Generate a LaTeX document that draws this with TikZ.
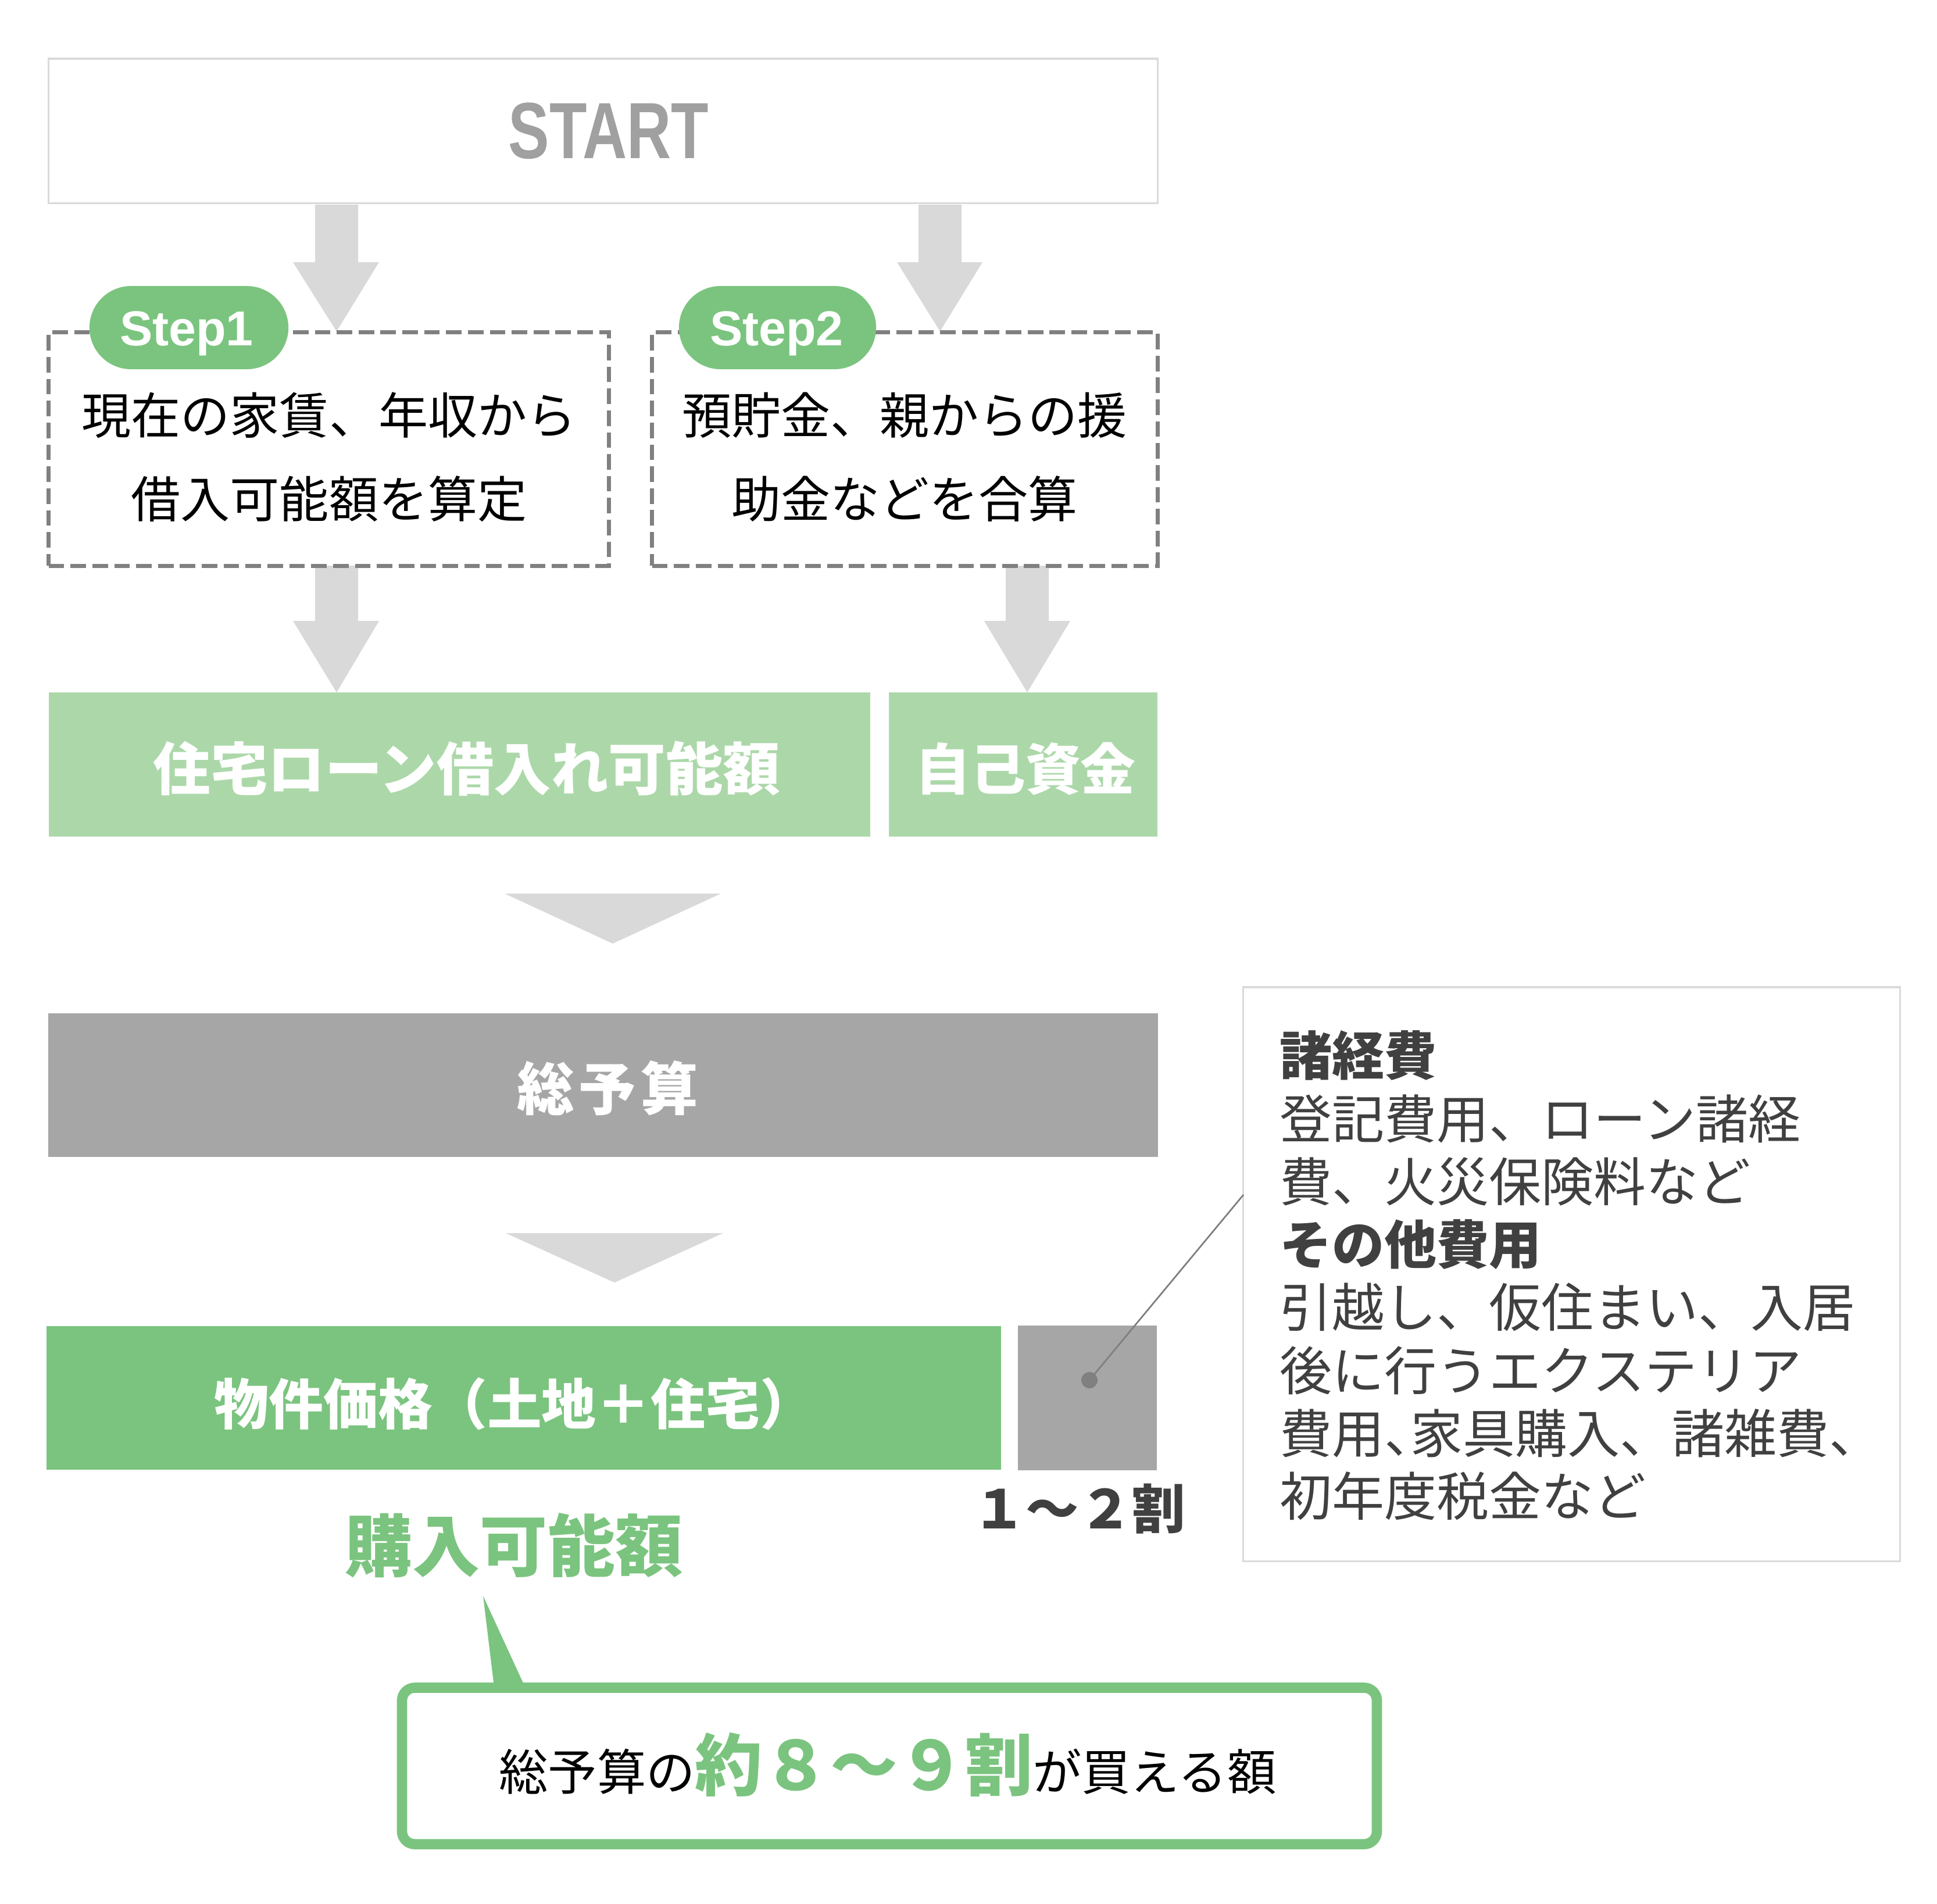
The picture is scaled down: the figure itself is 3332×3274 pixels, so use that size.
\documentclass[tikz,border=0pt]{standalone}
\usepackage{fontspec}
\setmainfont{Noto Sans CJK JP}
\newfontfamily\lat{Liberation Sans}
\definecolor{dgreen}{HTML}{7BC47F}
\definecolor{lgreen}{HTML}{ACD8A9}
\definecolor{boxgray}{HTML}{A6A6A6}
\definecolor{arrowgray}{HTML}{D9D9D9}
\definecolor{dashgray}{HTML}{808080}
\definecolor{startgray}{HTML}{A0A0A0}
\definecolor{notegray}{HTML}{404040}
\definecolor{linegray}{HTML}{DADADA}
\tikzset{
  blockarrow/.style={fill=arrowgray, draw=none},
  dashbox/.style={draw=dashgray, line width=2pt, dash pattern=on 7.6pt off 3.1pt, inner sep=0},
  pill/.style={fill=dgreen, draw=none, inner sep=0, rounded corners=0.715cm, minimum height=1.43cm},
  pilltext/.style={text=white, font=\lat\bfseries\fontsize{24}{24}\selectfont, inner sep=0},
  steptext/.style={align=center, inner sep=0, font=\fontsize{24.2}{41}\selectfont},
  bar/.style={draw=none, inner sep=0},
  whitetext/.style={text=white, font=\bfseries\fontsize{28}{28}\selectfont},
}
\begin{document}
\begin{tikzpicture}[x=0.01cm, y=-0.01cm]
\useasboundingbox[fill=white] (0,0) rectangle (3332,3274);

% START box
\node[draw=linegray, line width=0.9pt, minimum width=19.07cm, minimum height=2.48cm, inner sep=0] (start) at (1037.5,225) {};
\node[text=startgray, font=\lat\bfseries\fontsize{39}{39}\selectfont, inner sep=0] (starttxt) at (1047,225) {\scalebox{0.77}[1]{START}};

% arrows from START
\fill[blockarrow] (542,352) -- (616,352) -- (616,451) -- (652,451) -- (579,570) -- (504,451) -- (542,451) -- cycle;
\fill[blockarrow] (1580,352) -- (1654,352) -- (1654,451) -- (1690,451) -- (1617,570) -- (1543,451) -- (1580,451) -- cycle;

% arrows to the green bars
\fill[blockarrow] (542,973) -- (616,973) -- (616,1068) -- (652,1068) -- (579,1191) -- (504,1068) -- (542,1068) -- cycle;
\fill[blockarrow] (1730,973) -- (1804,973) -- (1804,1068) -- (1841,1068) -- (1767,1191) -- (1693,1068) -- (1730,1068) -- cycle;

% step boxes
\node[dashbox, minimum width=9.63cm, minimum height=4.01cm] (step1box) at (565.5,772.5) {};
\node[dashbox, minimum width=8.69cm, minimum height=4.01cm] (step2box) at (1556.5,772.5) {};
\node[pill, minimum width=3.42cm] (pill1) at (325,563.5) {};
\node[pill, minimum width=3.39cm] (pill2) at (1337.5,563.5) {};
\node[pilltext] (pill1txt) at (321,574) {Step1};
\node[pilltext] (pill2txt) at (1336,574) {Step2};
\node[steptext] (step1txt) at (566,786) {現在の家賃、年収から\\借入可能額を算定};
\node[steptext] (step2txt) at (1556,786) {預貯金、親からの援\\助金などを合算};

% green bars
\node[bar, fill=lgreen, minimum width=14.13cm, minimum height=2.48cm] (loan) at (790.5,1315) {};
\node[whitetext, inner sep=0] (loantxt) at (803,1322) {住宅ローン借入れ可能額};
\node[bar, fill=lgreen, minimum width=4.62cm, minimum height=2.48cm] (own) at (1760,1315) {};
\node[whitetext, inner sep=0, font=\bfseries\fontsize{27}{27}\selectfont] (owntxt) at (1764,1322) {自己資金};

% triangle 1
\fill[blockarrow] (868,1537) -- (1240,1537) -- (1054,1623) -- cycle;

% total budget
\node[bar, fill=boxgray, minimum width=19.07cm, minimum height=2.47cm] (budget) at (1037.5,1866.5) {};
\node[whitetext, inner sep=0] (budgettxt) at (1045,1872) {総\hspace{0.08em}予\hspace{0.08em}算};

% triangle 2
\fill[blockarrow] (870,2121) -- (1244,2121) -- (1057,2206) -- cycle;

% property price + costs
\node[bar, fill=dgreen, minimum width=16.42cm, minimum height=2.47cm] (prop) at (901,2404.5) {};
\node[whitetext, inner sep=0, font=\bfseries\fontsize{26.7}{26.7}\selectfont] (proptxt) at (885,2415) {物件価格（土地＋住宅）};
\node[bar, fill=boxgray, minimum width=2.39cm, minimum height=2.49cm] (costs) at (1870.5,2404.5) {};
\node[circle, fill=dashgray, inner sep=0, minimum size=0.28cm] (dot) at (1874,2374) {};
\node[text=notegray, inner sep=0, font=\bfseries\fontsize{26}{26}\selectfont] (ratio) at (1856,2595) {１～２割};

% note box
\node[draw=linegray, line width=1pt, fill=white, minimum width=11.29cm, minimum height=9.87cm, inner sep=0] (notebox) at (2703.5,2191.5) {};
\node[anchor=north west, align=left, inner sep=0, text=notegray, font=\fontsize{25.6}{30.8}\selectfont] (note) at (2201,1772)
 {{\bfseries 諸経費}\\登記費用、ローン諸経\\費、火災保険料など\\{\bfseries その他費用}\\引越し、仮住まい、入居\\後に行うエクステリア\\{\addfontfeature{RawFeature=+halt}費用、}家具購入、諸雑費、\\初年度税金など};
\coordinate (leaderend) at (2139,2055);
\draw[dashgray, line width=0.8pt] (dot.center) -- (leaderend);

% purchasable amount
\node[text=dgreen, inner sep=0, font=\bfseries\fontsize{33}{33}\selectfont] (buy) at (884,2658) {購入可能額};

% callout
\coordinate (tailtip) at (831,2745);
\fill[dgreen] (tailtip) -- (851,2910) -- (907,2910) -- cycle;
\node[draw=dgreen, line width=5pt, fill=white, rounded corners=0.22cm, minimum width=16.76cm, minimum height=2.69cm, inner sep=0] (callout) at (1530,3037.5) {};
\node[inner sep=0, font=\fontsize{24}{24}\selectfont] (callouttxt) at (1527,3035)
 {総予算の{\color{dgreen}\bfseries\fontsize{33}{33}\selectfont 約８～９割}が買える額};
\end{tikzpicture}
\end{document}
